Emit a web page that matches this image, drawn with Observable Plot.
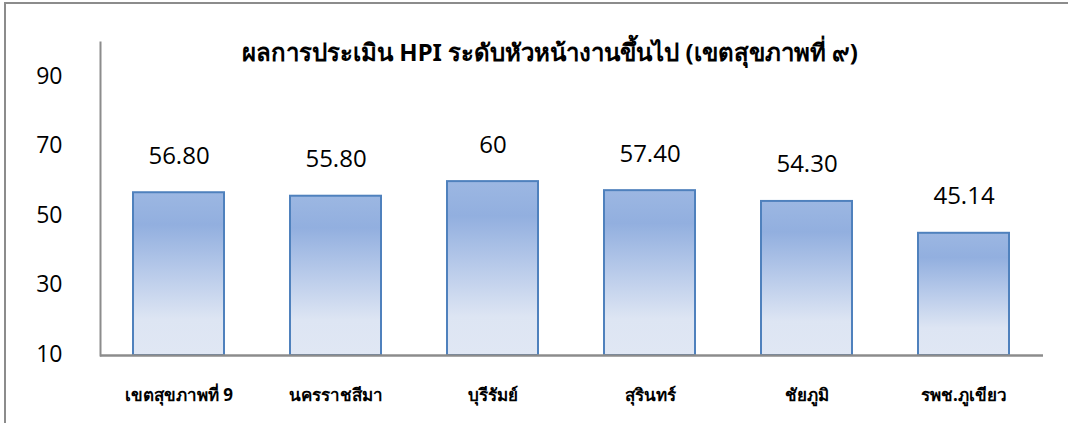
<!DOCTYPE html>
<html>
<head>
<meta charset="utf-8">
<script src="https://cdn.jsdelivr.net/npm/d3@7"></script>
<script src="https://cdn.jsdelivr.net/npm/@observablehq/plot@0.6"></script>
<style>
  body { margin: 0; background: #fff; }
  #wrap { position: relative; width: 1068px; height: 423px; overflow: hidden; background: #fff; }
  #frame { position: absolute; left: 4px; top: 2px; width: 1200px; height: 600px;
           border-top: 2px solid #8c8c8c; border-left: 2px solid #8c8c8c; pointer-events: none; }
  #title { position: absolute; left: 100px; width: 900px; top: 36px; text-align: center;
           font-family: "Noto Sans", "Open Sans", sans-serif; font-weight: bold; font-size: 24px;
           line-height: 32px; color: #000; z-index: 2; }
  #chart { position: absolute; left: 0; top: 0; }
</style>
</head>
<body>
<div id="wrap">
  <div id="chart"></div>
  <div id="title">ผลการประเมิน HPI ระดับหัวหน้างานขึ้นไป (เขตสุขภาพที่ ๙)</div>
  <div id="frame"></div>
</div>
<script>
const categories = ["เขตสุขภาพที่ 9", "นครราชสีมา", "บุรีรัมย์", "สุรินทร์", "ชัยภูมิ", "รพช.ภูเขียว"];
const values = [56.80, 55.80, 60, 57.40, 54.30, 45.14];
const valueLabels = ["56.80", "55.80", "60", "57.40", "54.30", "45.14"];
const yTicks = [10, 30, 50, 70, 90];

const data = categories.map((c, i) => ({ c, v: values[i], label: valueLabels[i] }));

const chart = Plot.plot({
  width: 1068,
  height: 423,
  marginLeft: 100,
  marginRight: 25,
  marginTop: 42,
  marginBottom: 68,
  style: { background: "transparent", fontFamily: "'Open Sans', 'Noto Sans', sans-serif", color: "#000" },
  x: { domain: categories, paddingInner: 0.42, paddingOuter: 0.21, label: null },
  y: { domain: [10, 100], label: null },
  marks: [
    Plot.barY(data, { x: "c", y1: 10, y2: "v", fill: "url(#barGrad)", stroke: "#4f81bd", strokeWidth: 2 }),
    Plot.frame({ anchor: "left", stroke: "#8c8c8c", strokeWidth: 2 }),
    Plot.ruleY([10], { stroke: "#8c8c8c", strokeWidth: 2.5 }),
    Plot.axisY({ ticks: yTicks, tickSize: 0, tickPadding: 38, fontSize: 23, label: null, dy: -1 }),
    Plot.axisX({ tickSize: 0, tickPadding: 33, fontSize: 17, fontWeight: "bold", label: null,
                 fontFamily: "'Noto Sans', 'Open Sans', sans-serif" }),
    Plot.text(data, { x: "c", y: "v", text: "label", dy: -29, lineAnchor: "bottom", fontSize: 24 })
  ]
});

const ns = "http://www.w3.org/2000/svg";
const defs = document.createElementNS(ns, "defs");
defs.innerHTML = `<linearGradient id="barGrad" x1="0" y1="0" x2="0" y2="1">
  <stop offset="0" stop-color="#9cb7e2"/>
  <stop offset="0.2" stop-color="#92afdf"/>
  <stop offset="0.5" stop-color="#b9cbea"/>
  <stop offset="0.78" stop-color="#dde5f3"/>
  <stop offset="1" stop-color="#e0e7f4"/>
</linearGradient>`;
chart.insertBefore(defs, chart.firstChild);
document.getElementById("chart").appendChild(chart);
</script>
</body>
</html>
